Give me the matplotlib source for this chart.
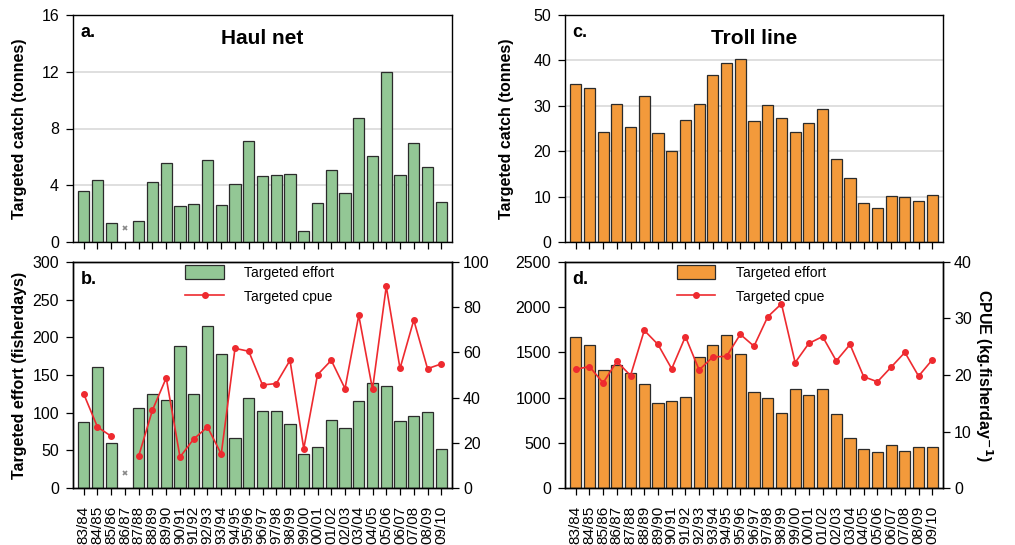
import numpy as np
import matplotlib
matplotlib.use("Agg")
import matplotlib.pyplot as plt
from matplotlib.lines import Line2D
from matplotlib.patches import Patch

plt.rcParams['font.family'] = ['Liberation Sans', 'DejaVu Sans']

seasons = ["83/84", "84/85", "85/86", "86/87", "87/88", "88/89", "89/90", "90/91",
           "91/92", "92/93", "93/94", "94/95", "95/96", "96/97", "97/98", "98/99",
           "99/00", "00/01", "01/02", "02/03", "03/04", "04/05", "05/06", "06/07",
           "07/08", "08/09", "09/10"]

nan = np.nan
haul_catch = [3.62, 4.35, 1.36, nan, 1.46, 4.21, 5.6, 2.52, 2.66, 5.81, 2.61, 4.07, 7.15,
              4.64, 4.75, 4.78, 0.78, 2.73, 5.06, 3.46, 8.75, 6.09, 12.0, 4.71, 7.01, 5.32, 2.85]
haul_effort = [88, 161, 60, nan, 106, 125, 117, 189, 125, 215, 178, 66, 119, 102, 102, 85,
               45, 55, 90, 79, 115, 140, 135, 89, 95, 101, 52]
haul_cpue = [41.6, 27.0, 22.9, nan, 14.2, 34.5, 48.7, 13.7, 21.7, 27.0, 15.0, 61.8, 60.5,
             45.6, 46.2, 56.5, 17.4, 50.1, 56.5, 44.0, 76.4, 43.7, 89.2, 52.9, 74.3, 52.8, 54.9]
# seasons with no data (marked with a small cross) and cross heights
haul_missing = ["86/87"]
haul_missing_catch_y = [0.96]
haul_missing_effort_y = [20]

troll_catch = [34.8, 33.9, 24.3, 30.4, 25.3, 32.1, 24.0, 20.1, 26.8, 30.3, 36.7, 39.4, 40.2,
               26.7, 30.1, 27.4, 24.3, 26.3, 29.3, 18.3, 14.0, 8.5, 7.4, 10.2, 9.9, 9.0, 10.4]
troll_effort = [1667, 1578, 1309, 1364, 1276, 1154, 944, 959, 1007, 1453, 1586, 1692, 1479,
                1066, 999, 833, 1095, 1029, 1095, 815, 553, 431, 398, 476, 413, 450, 457]
troll_cpue = [21.0, 21.5, 18.6, 22.4, 19.9, 27.9, 25.4, 21.1, 26.8, 20.9, 23.2, 23.3, 27.2,
              25.1, 30.3, 32.6, 22.2, 25.6, 26.8, 22.5, 25.4, 19.7, 18.8, 21.4, 24.0, 19.8, 22.7]

GREEN = "#93c795"
ORANGE = "#f39a3b"
EDGE = "#2b2b2b"
RED = "#ee2a2f"
GRID = "#d9d9d9"

W, H = 1015, 545
fig = plt.figure(figsize=(W / 100, H / 100), dpi=100)

def rect(l, t, r, b):
    return [l / W, 1 - b / H, (r - l) / W, (b - t) / H]

x = np.arange(len(seasons))
xlim = (-0.78, len(seasons) - 1 + 0.78)
TICK_FS = 11.5
XTICK_FS = 11
LABEL_FS = 11.5

def style(ax, show_xlabels):
    ax.set_xlim(*xlim)
    ax.set_xticks(x)
    if show_xlabels:
        ax.set_xticklabels(seasons, rotation=90, fontsize=XTICK_FS)
    else:
        ax.set_xticklabels([])
    ax.tick_params(axis='both', direction='out', length=5, width=0.9, labelsize=TICK_FS,
                   top=False, right=False, pad=5)
    ax.tick_params(axis='x', pad=8, labelsize=XTICK_FS)
    for s in ax.spines.values():
        s.set_linewidth(1.0)
        s.set_color("black")

def catch_panel(ax, vals, color, ymax, step, letter, title, missing_y=None, labelpad=6):
    style(ax, False)
    ax.set_ylim(0, ymax)
    ax.set_yticks(np.arange(0, ymax + 0.1, step))
    ax.yaxis.grid(True, color=GRID, linewidth=1.2)
    ax.set_axisbelow(True)
    ax.bar(x, vals, width=0.82, color=color, edgecolor=EDGE, linewidth=0.9, zorder=2)
    if missing_y is not None:
        mi = [seasons.index(s) for s in haul_missing]
        ax.plot(mi, missing_y, linestyle='none', marker='x', color='#888888',
                markersize=3.5, markeredgewidth=1.2, zorder=3)
    ax.text(0.02, 0.96, letter, transform=ax.transAxes, fontsize=13, fontweight='bold',
            va='top', ha='left')
    ax.text(0.5, 0.94, title, transform=ax.transAxes, fontsize=15, fontweight='bold',
            va='top', ha='center')
    ax.set_ylabel("Targeted catch (tonnes)", fontsize=LABEL_FS, fontweight='bold',
                  labelpad=labelpad)

def effort_panel(ax, eff, cpue, color, ymax, ystep, cmax, cstep, letter, missing_y=None,
                 left_label=None, right_label=None):
    style(ax, True)
    ax.set_ylim(0, ymax)
    ax.set_yticks(np.arange(0, ymax + 0.1, ystep))
    ax.bar(x, eff, width=0.82, color=color, edgecolor=EDGE, linewidth=0.9, zorder=2)
    if missing_y is not None:
        mi = [seasons.index(s) for s in haul_missing]
        ax.plot(mi, missing_y, linestyle='none', marker='x', color='#888888',
                markersize=3.5, markeredgewidth=1.2, zorder=3)
    ax2 = ax.twinx()
    ax2.set_ylim(0, cmax)
    ax2.set_yticks(np.arange(0, cmax + 0.1, cstep))
    ax2.plot(x, cpue, color=RED, linewidth=1.2, marker='o', markersize=4, zorder=4)
    ax2.tick_params(axis='y', direction='out', length=5, width=0.9, labelsize=TICK_FS, pad=3)
    for s in ax2.spines.values():
        s.set_linewidth(1.0)
    ax.text(0.02, 0.96, letter, transform=ax.transAxes, fontsize=13, fontweight='bold',
            va='top', ha='left')
    handles = [Patch(facecolor=color, edgecolor=EDGE, linewidth=0.9),
               Line2D([0], [0], color=RED, linewidth=1.2, marker='o', markersize=4)]
    ax.legend(handles, ["Targeted effort", "Targeted cpue"], loc='upper left',
              bbox_to_anchor=(0.282, 1.01), frameon=False, fontsize=10,
              handlelength=2.75, handleheight=1.1, handletextpad=1.5, labelspacing=0.7,
              borderaxespad=0.0)
    if left_label:
        ax.set_ylabel(left_label, fontsize=LABEL_FS, fontweight='bold', labelpad=4)
    if right_label:
        ax2.set_ylabel(right_label, fontsize=LABEL_FS, fontweight='bold', rotation=270,
                       labelpad=16)
    return ax2

ax_a = fig.add_axes(rect(73, 15, 452, 242))
ax_b = fig.add_axes(rect(73, 262, 452, 488))
ax_c = fig.add_axes(rect(565, 15, 943, 242))
ax_d = fig.add_axes(rect(565, 262, 943, 488))

catch_panel(ax_a, haul_catch, GREEN, 16, 4, "a.", "Haul net", haul_missing_catch_y,
            labelpad=10)
effort_panel(ax_b, haul_effort, haul_cpue, GREEN, 300, 50, 100, 20, "b.",
             missing_y=haul_missing_effort_y, left_label="Targeted effort (fisherdays)")
catch_panel(ax_c, troll_catch, ORANGE, 50, 10, "c.", "Troll line", labelpad=14)
effort_panel(ax_d, troll_effort, troll_cpue, ORANGE, 2500, 500, 40, 10, "d.",
             right_label="CPUE (kg.fisherday$^{\\mathbf{-1}}$)")

fig.savefig("out.png", dpi=100)
